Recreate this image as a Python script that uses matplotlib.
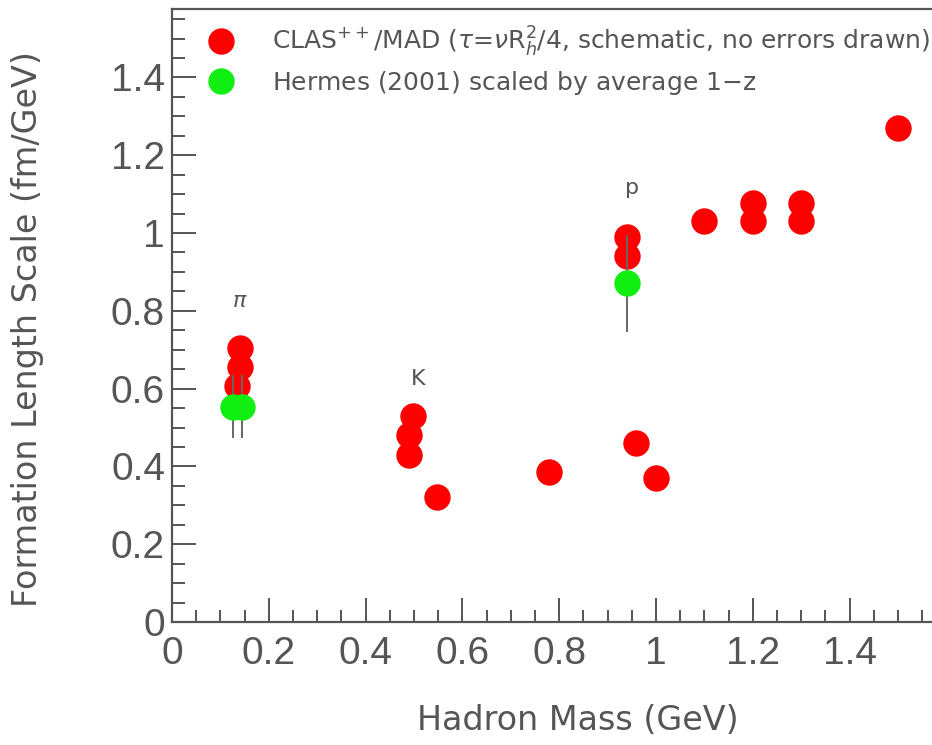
import matplotlib as mpl
mpl.use('Agg')
import matplotlib.pyplot as plt
from matplotlib.lines import Line2D
import numpy as np

# data #################################################

# CLAS++/MAD schematic formation lengths (red)
clas_mass = [0.14, 0.14, 0.135, 0.498, 0.49, 0.49, 0.548, 0.779, 0.94, 0.94,
             0.959, 1.0, 1.10, 1.20, 1.20, 1.30, 1.30, 1.50]
clas_len = [0.705, 0.655, 0.607, 0.530, 0.480, 0.430, 0.321, 0.386, 0.99, 0.94,
            0.460, 0.370, 1.030, 1.078, 1.030, 1.078, 1.030, 1.270]

# Hermes (2001) scaled by average 1-z (green)
herm_mass = [0.125, 0.145, 0.94]
herm_len = [0.553, 0.553, 0.871]
herm_err = [0.081, 0.081, 0.125]

# particle labels
lab_text = [r'$\pi$', 'K', 'p']
lab_x = [0.14, 0.508, 0.95]
lab_y = [0.80, 0.60, 1.09]

xticks = [0, 0.2, 0.4, 0.6, 0.8, 1, 1.2, 1.4]
xtick_labels = ['0', '0.2', '0.4', '0.6', '0.8', '1', '1.2', '1.4']
yticks = [0, 0.2, 0.4, 0.6, 0.8, 1, 1.2, 1.4]
ytick_labels = ['0', '0.2', '0.4', '0.6', '0.8', '1', '1.2', '1.4']

# style ################################################

grey = '#555555'
red = '#ff0000'
green = '#11ee11'
plt.rcParams['font.family'] = ['DejaVu Sans']
plt.rcParams['mathtext.fontset'] = 'dejavusans'

fig = plt.figure(figsize=(9.32, 7.45), dpi=100)
W, H = 932., 745.
x0, x1 = 0.0, 1.7
px_per_x = 484.
ax = fig.add_axes([172 / W, (H - 622) / H, (x1 - x0) * px_per_x / W, 613 / H])

ax.plot(clas_mass, clas_len, 'o', color=red, markersize=19, markeredgewidth=0, zorder=2)
ax.errorbar(herm_mass, herm_len, yerr=herm_err, fmt='o', color=green, markersize=19,
            markeredgewidth=0, ecolor='#666666', elinewidth=1.4, capsize=0, zorder=3)

for t, x, y in zip(lab_text, lab_x, lab_y):
    ax.text(x, y, t, ha='center', va='bottom', fontsize=16, color=grey)

ax.set_xlim(x0, x1)
ax.set_ylim(0, 1.576)
ax.set_xticks(xticks)
ax.set_xticklabels(xtick_labels, family='Liberation Sans')
ax.set_yticks(yticks)
ax.set_yticklabels(ytick_labels, family='Liberation Sans')
ax.set_xticks(np.arange(0, 1.7, 0.05), minor=True)
ax.set_yticks(np.arange(0, 1.576, 0.05), minor=True)
ax.tick_params(which='both', direction='in', colors=grey, top=False, right=False,
               labelsize=28, width=1.4)
ax.tick_params(axis='x', which='major', length=17, pad=10)
ax.tick_params(axis='y', which='major', length=17, pad=5)
ax.tick_params(which='minor', length=9)
for s in ax.spines.values():
    s.set_color(grey)
    s.set_linewidth(1.6)

ax.set_xlabel('Hadron Mass (GeV)', fontsize=24, color=grey, va='top')
ax.xaxis.set_label_coords(0.493, -0.133)
ax.set_ylabel('Formation Length Scale (fm/GeV)', fontsize=24, color=grey)
ax.yaxis.set_label_coords(-0.1555, 0.478)

handles = [Line2D([], [], ls='none', marker='o', color=red, markersize=19, markeredgewidth=0),
           Line2D([], [], ls='none', marker='o', color=green, markersize=19, markeredgewidth=0)]
labels = [r'CLAS$^{++}$/MAD ($\tau$=$\nu$R$_h^2$/4, schematic, no errors drawn)',
          'Hermes (2001) scaled by average 1$-$z']
leg = ax.legend(handles, labels, loc='upper left', bbox_to_anchor=(0.041, 0.974),
                frameon=False, fontsize=18, handlelength=1.2, handletextpad=1.45,
                labelspacing=0.4, borderpad=0, borderaxespad=0)
for t in leg.get_texts():
    t.set_color(grey)

plt.savefig('out.png', dpi=100)
